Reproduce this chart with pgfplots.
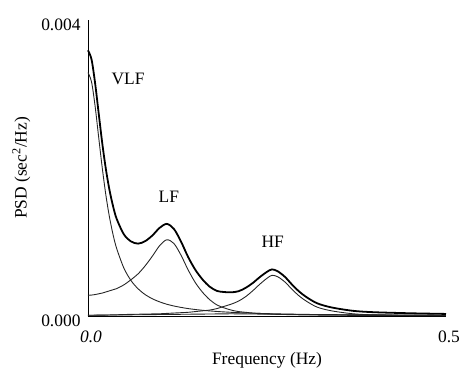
\documentclass[border=0pt]{standalone}
\usepackage{fontspec}
\setmainfont{Liberation Serif}
\usepackage{pgfplots}
\usepackage{pgfplotstable}
\pgfplotsset{compat=1.18}
\pgfplotstableread{
x      vlf        lf        hf        base       total
0      0.00329    0.00028   0.00001   0.00001    0.00359
0.005  0.003161   0.000283  0.00001   0.0000105  0.003465
0.01   0.00283    0.00029   0.00001   0.000011   0.003141
0.015  0.002408   0.0003    0.000012  0.0000115  0.002732
0.02   0.001994   0.00031   0.000012  0.000012   0.002328
0.025  0.001632   0.000325  0.000013  0.0000125  0.001983
0.03   0.001336   0.00034   0.000014  0.000013   0.001703
0.035  0.0011     0.000355  0.000015  0.0000135  0.001484
0.04   0.000914   0.00037   0.000016  0.000014   0.001314
0.05   0.00065    0.00042   0.00002   0.000015   0.001105
0.06   0.00048    0.00049   0.000022  0.000016   0.001008
0.07   0.000367   0.00057   0.000024  0.000017   0.000978
0.08   0.000288   0.00068   0.000026  0.000018   0.001012
0.09   0.000232   0.00081   0.000028  0.000019   0.001089
0.10   0.000191   0.00095   0.00003   0.00002    0.001191
0.11   0.000159   0.00103   0.000035  0.000021   0.001245
0.12   0.000135   0.00098   0.00004   0.000022   0.001177
0.13   0.000116   0.00082   0.000045  0.000023   0.001004
0.14   0.0001     0.00062   0.00005   0.000024   0.000794
0.15   0.0000875  0.00045   0.00006   0.000025   0.000623
0.16   0.0000772  0.00032   0.00007   0.000026   0.000493
0.17   0.0000685  0.00022   0.00008   0.000027   0.000396
0.18   0.0000613  0.00015   0.0001    0.000028   0.000339
0.19   0.0000551  0.00011   0.00013   0.000029   0.000324
0.20   0.0000498  0.00008   0.00016   0.00003    0.00032
0.21   0.0000453  0.00006   0.0002    0.000029   0.000334
0.22   0.0000413  0.00005   0.00026   0.000028   0.000379
0.23   0.0000378  0.00004   0.00034   0.000027   0.000445
0.24   0.0000347  0.000035  0.00043   0.000026   0.000526
0.25   0.0000321  0.00003   0.00051   0.000025   0.000597
0.257  0.0000303  0.000025  0.00055   0.0000243  0.00063
0.265  0.0000286  0.000022  0.00053   0.0000235  0.000604
0.275  0.0000266  0.00002   0.00046   0.0000225  0.000529
0.285  0.0000247  0.000018  0.00036   0.0000215  0.000424
0.295  0.0000231  0.000016  0.00027   0.0000205  0.00033
0.305  0.0000216  0.000015  0.0002    0.0000198  0.000256
0.32   0.0000196  0.000013  0.00012   0.000019   0.000172
0.34   0.0000174  0.000011  0.00007   0.000018   0.000116
0.37   0.0000147  0.000009  0.00003   0.0000165  0.00007
0.40   0.0000126  0.000008  0.000015  0.000015   0.000051
0.45   0.00001    0.000006  0.000008  0.0000125  0.000037
0.5    0.0000081  0.000005  0.000005  0.00001    0.000028
}\psd
\begin{document}
\begin{tikzpicture}
\begin{axis}[
  scale only axis,
  width=358bp, height=296bp,
  xmin=0, xmax=0.5, ymin=0, ymax=0.004,
  axis lines=left,
  axis line style={-, line width=0.9pt},
  xtick={0,0.5}, xticklabels={\textit{0.0},0.5},
  ytick={0,0.004}, yticklabels={0.000,0.004},
  scaled y ticks=false, scaled x ticks=false,
  major tick length=0pt,
  /pgf/number format/assume math mode=true,
  tick label style={font=\fontsize{17.5}{20}\selectfont},
  xticklabel style={yshift=-11pt, xshift=3pt},
  yticklabel style={xshift=-4pt, yshift=-5pt},
  label style={font=\fontsize{17.5}{20}\selectfont},
  xlabel={Frequency (Hz)},
  ylabel={PSD (sec\textsuperscript{2}/Hz)},
  xlabel style={yshift=-3pt},
  ylabel style={yshift=4pt},
  clip=false,
]
\addplot[black!85, line width=0.9pt, smooth, tension=0.5] table[x=x, y=vlf] {\psd};
\addplot[black!85, line width=0.9pt, smooth, tension=0.5] table[x=x, y=lf] {\psd};
\addplot[black!85, line width=0.9pt, smooth, tension=0.5] table[x=x, y=hf] {\psd};
\addplot[black!85, line width=0.9pt, smooth, tension=0.5] table[x=x, y=base] {\psd};
\addplot[black, line width=1.8pt, smooth, tension=0.5] table[x=x, y=total] {\psd};
\node[font=\fontsize{17.5}{20}\selectfont] at (axis cs:0.056,0.0032) {VLF};
\node[font=\fontsize{17.5}{20}\selectfont] at (axis cs:0.113,0.00161) {LF};
\node[font=\fontsize{17.5}{20}\selectfont] at (axis cs:0.258,0.001) {HF};
\coordinate (O) at (rel axis cs:0,0);
\end{axis}
\pgfresetboundingbox
\path ([shift={(-88bp,-54bp)}]O) rectangle ([shift={(373bp,316bp)}]O);
\end{tikzpicture}
\end{document}
